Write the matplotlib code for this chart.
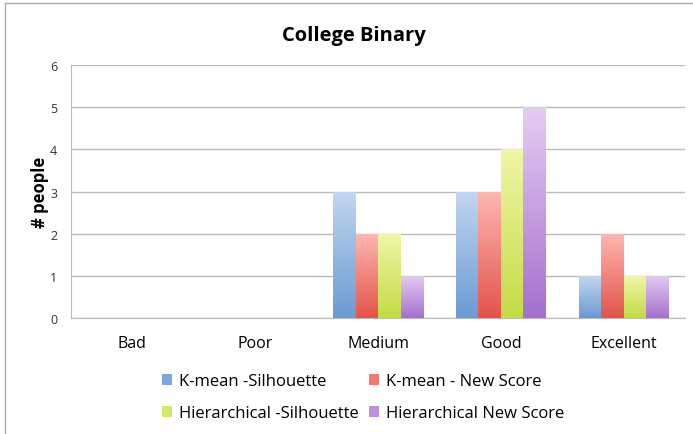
import numpy as np
import matplotlib
matplotlib.use('Agg')
import matplotlib.pyplot as plt
from matplotlib.colors import LinearSegmentedColormap
from matplotlib.patches import Patch
from matplotlib.lines import Line2D

categories = ['Bad', 'Poor', 'Medium', 'Good', 'Excellent']
series = ['K-mean -Silhouette', 'K-mean - New Score',
          'Hierarchical -Silhouette', 'Hierarchical New Score']
kmean_sil = [0, 0, 3, 3, 1]
kmean_new = [0, 0, 2, 3, 2]
hier_sil = [0, 0, 2, 4, 1]
hier_new = [0, 0, 1, 5, 1]
values = [kmean_sil, kmean_new, hier_sil, hier_new]

# top colour, bottom colour for gradient
grads = [('#c3d6f0', '#6a9bd3'),
         ('#ffb8b2', '#e2534a'),
         ('#f0f7a8', '#c4db45'),
         ('#e4cdf2', '#a66fcf')]
solid = ['#7ba7db', '#ee7a72', '#d6e86a', '#bb92dd']

plt.rcParams['font.family'] = ['Open Sans', 'DejaVu Sans']

fig = plt.figure(figsize=(6.93, 4.35), dpi=100)
ax = fig.add_axes([0.1025, 0.2667, 0.886, 0.5813])

x = np.arange(len(categories))
w = 0.183
grad = np.linspace(0, 1, 256).reshape(-1, 1)
for j in range(len(series)):
    cmap = LinearSegmentedColormap.from_list('g%d' % j, [grads[j][1], grads[j][0]])
    bars = ax.bar(x + (j - 1.5) * w, values[j], w, color='none', edgecolor='none', zorder=3)
    for b in bars:
        h = b.get_height()
        if h <= 0:
            continue
        x0 = b.get_x()
        im = ax.imshow(grad, cmap=cmap, aspect='auto', origin='lower',
                       extent=[x0, x0 + b.get_width(), 0, h], zorder=3)
        im.set_clip_path(b)

ax.set_xlim(-0.5, 4.5)
ax.set_ylim(0, 6)
ax.set_yticks(range(0, 7))
ax.set_xticks(x)
ax.set_xticklabels(categories, fontsize=11.5)
ax.tick_params(axis='y', labelsize=9, length=0, pad=10, colors='#333333')
ax.tick_params(axis='x', length=0, pad=12)
ax.yaxis.grid(True, color='#bbbbbb', linewidth=1)
ax.set_axisbelow(True)
for s in ['top', 'right']:
    ax.spines[s].set_visible(False)
for s in ['left', 'bottom']:
    ax.spines[s].set_color('#bbbbbb')
ax.set_ylabel('# people', fontsize=12, fontweight='bold', labelpad=1)
fig.text(353.5 / 693, 1 - 36 / 435, 'College Binary', fontsize=14.5, fontweight='bold',
         ha='center', va='center')

# legend filled row by row
order = [0, 2, 1, 3]
handles = [Patch(facecolor=solid[j], edgecolor='none') for j in order]
labels = [series[j] for j in order]
fig.legend(handles, labels, loc='lower center', bbox_to_anchor=(0.524, -0.005), ncol=2,
           frameon=False, fontsize=12, handlelength=0.6, handleheight=0.6,
           handletextpad=0.4, columnspacing=0.6, labelspacing=0.95)

# outer chart border (top and left only visible)
fig.add_artist(Line2D([5 / 693, 1], [1 - 4 / 435, 1 - 4 / 435], transform=fig.transFigure,
                      color='#aaaaaa', linewidth=1))
fig.add_artist(Line2D([5 / 693, 5 / 693], [0, 1 - 4 / 435], transform=fig.transFigure,
                      color='#aaaaaa', linewidth=1))

plt.savefig('out.png', dpi=100)
